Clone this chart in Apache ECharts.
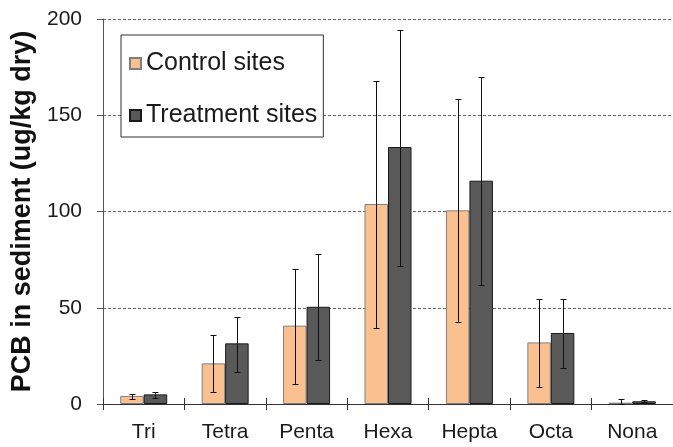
<!DOCTYPE html>
<html>
<head>
<meta charset="utf-8">
<script src="https://cdn.jsdelivr.net/npm/echarts@6/dist/echarts.min.js"></script>
<style>
html,body{margin:0;padding:0;background:#fff;}
#chart{width:673px;height:447px;}
</style>
</head>
<body>
<div id="chart"></div>
<script>
const categories = ['Tri', 'Tetra', 'Penta', 'Hexa', 'Hepta', 'Octa', 'Nona'];
const controlMean = [4.2, 21.1, 40.7, 103.9, 100.6, 32.0, 0.7];
const controlLow  = [2.8, 6.1, 10.2, 39.3, 42.4, 8.8, 0.0];
const controlHigh = [5.0, 35.7, 70.3, 167.8, 158.3, 54.7, 2.4];
const treatMean = [5.0, 31.5, 50.5, 133.5, 116.0, 36.9, 1.4];
const treatLow  = [3.1, 16.8, 22.9, 71.5, 61.7, 18.5, 0.9];
const treatHigh = [6.1, 45.0, 77.8, 194.3, 169.9, 54.7, 1.9];
const yTicks = [0, 50, 100, 150, 200];

const BAR_W = 23.5;
const CAP = 3;

function errorSeries(low, high, side) {
  return {
    type: 'custom',
    z: 10,
    silent: true,
    data: categories.map((c, i) => [i, low[i], high[i]]),
    encode: { x: 0, y: [1, 2] },
    renderItem: function (params, api) {
      const i = api.value(0);
      const lo = api.coord([i, api.value(1)]);
      const hi = api.coord([i, api.value(2)]);
      const x = Math.round(lo[0] + side * BAR_W / 2) + 0.5;
      const yl = Math.round(lo[1]) + 0.5;
      const yh = Math.round(hi[1]) + 0.5;
      const st = { stroke: '#111', lineWidth: 1 };
      return {
        type: 'group',
        children: [
          { type: 'line', shape: { x1: x, y1: yl, x2: x, y2: yh }, style: st },
          { type: 'line', shape: { x1: x - CAP, y1: yh, x2: x + CAP, y2: yh }, style: st },
          { type: 'line', shape: { x1: x - CAP, y1: yl, x2: x + CAP, y2: yl }, style: st }
        ]
      };
    }
  };
}

const chart = echarts.init(document.getElementById('chart'), null, { renderer: 'canvas' });
chart.setOption({
  animation: false,
  backgroundColor: '#ffffff',
  textStyle: { fontFamily: 'Liberation Sans, Arial, sans-serif' },
  grid: { left: 103, right: -11, top: 19, bottom: 43, containLabel: false },
  legend: {
    orient: 'vertical',
    left: 121,
    top: 35,
    padding: [16, 6, 9, 8],
    itemGap: 27,
    itemWidth: 11,
    itemHeight: 11,
    itemTextGap: 6,
    icon: 'rect',
    backgroundColor: '#ffffff',
    borderColor: '#333',
    borderWidth: 1,
    borderRadius: 0,
    textStyle: { fontSize: 25, color: '#1a1a1a', fontFamily: 'Liberation Sans, Arial, sans-serif' },
    data: ['Control sites', 'Treatment sites']
  },
  xAxis: [{
    type: 'category',
    data: categories,
    axisLine: { lineStyle: { color: '#333', width: 1 } },
    axisTick: { show: true, length: 6, lineStyle: { color: '#333' } },
    axisLabel: { fontSize: 21, color: '#1a1a1a', margin: 18 },
    splitLine: { show: false }
  }, {
    type: 'category',
    data: categories,
    position: 'bottom',
    axisLine: { show: false },
    axisTick: { show: true, inside: true, length: 6, lineStyle: { color: '#333' } },
    axisLabel: { show: false },
    splitLine: { show: false }
  }],
  yAxis: {
    type: 'value',
    min: yTicks[0],
    max: yTicks[yTicks.length - 1],
    interval: 50,
    name: 'PCB in sediment (ug/kg dry)',
    nameLocation: 'middle',
    nameGap: 65,
    nameTextStyle: { fontSize: 27, fontWeight: 'bold', color: '#111', fontFamily: 'Liberation Sans, Arial, sans-serif' },
    axisLine: { show: true, lineStyle: { color: '#555', width: 1 } },
    axisTick: { show: true, length: 6, lineStyle: { color: '#555' } },
    axisLabel: { fontSize: 21, color: '#1a1a1a', margin: 21 },
    splitLine: { show: true, lineStyle: { color: '#666', type: [3, 2], width: 1 } }
  },
  series: [{
    name: 'Control sites',
    type: 'bar',
    data: controlMean,
    barWidth: BAR_W,
    barGap: '0%',
    itemStyle: { color: '#FAC090', borderColor: '#7f7f7f', borderWidth: 1 }
  }, {
    name: 'Treatment sites',
    type: 'bar',
    data: treatMean,
    barWidth: BAR_W,
    barGap: '0%',
    itemStyle: { color: '#595959', borderColor: '#1a1a1a', borderWidth: 1 }
  },
  errorSeries(controlLow, controlHigh, -1),
  errorSeries(treatLow, treatHigh, 1)
  ]
});
</script>
</body>
</html>
